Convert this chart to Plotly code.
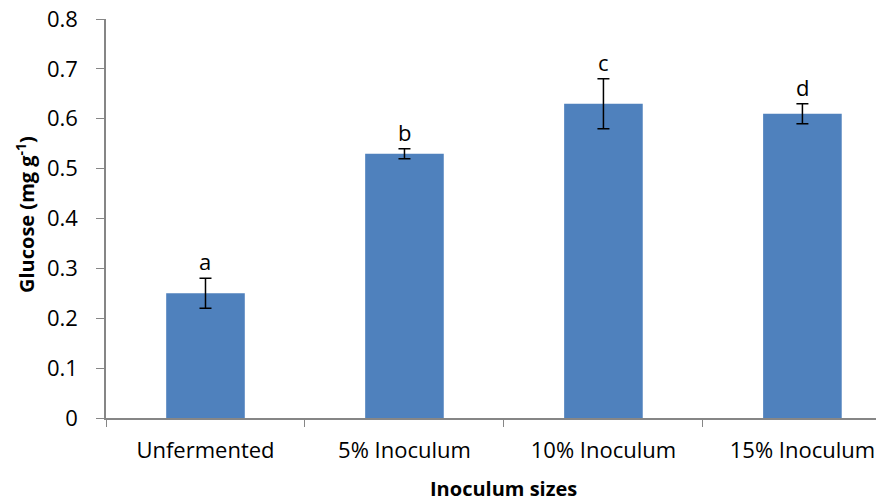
import plotly.graph_objects as go

categories = ["Unfermented", "5% Inoculum", "10% Inoculum", "15% Inoculum"]
glucose = [0.25, 0.53, 0.63, 0.61]
errors = [0.03, 0.01, 0.05, 0.02]
letters = ["a", "b", "c", "d"]
y_ticks = [0, 0.1, 0.2, 0.3, 0.4, 0.5, 0.6, 0.7, 0.8]
y_tick_labels = ["0", "0.1", "0.2", "0.3", "0.4", "0.5", "0.6", "0.7", "0.8"]

FONT = "Open Sans"
AXIS_GRAY = "#868686"
# page has an 8px body margin; figure is sized to fill the rest of the window
OFF = 8
W, H = 884 - OFF, 502 - OFF
L, T = 106 - OFF, 19 - OFF
B = H - (418 - OFF)
PW, PH = W - L, H - T - B

def px(xp):
    return (xp - OFF - L) / PW

def py(yp):
    return (H - (yp - OFF) - B) / PH

fig = go.Figure()
fig.add_trace(go.Bar(
    x=categories, y=glucose,
    marker=dict(color="#4F81BD", line=dict(width=0)),
    error_y=dict(type="data", array=errors, visible=True,
                 color="black", thickness=1.5, width=6),
    width=0.395,
))

for c, v, e, l in zip(categories, glucose, errors, letters):
    fig.add_annotation(x=c, y=v + e, text=l, showarrow=False,
                       xref="x", yref="y", yanchor="bottom", yshift=0,
                       font=dict(family=FONT, size=22, color="black"))

fig.add_annotation(x=px(504), y=py(488), xref="paper", yref="paper",
                   yanchor="middle", xanchor="center",
                   text="<b>Inoculum sizes</b>", showarrow=False,
                   font=dict(family=FONT, size=20, color="black"))
fig.add_annotation(x=px(25), y=py(215), xref="paper", yref="paper",
                   xanchor="center", yanchor="middle",
                   text="<b>Glucose (mg g<sup>-1</sup>)</b>", showarrow=False,
                   textangle=-90, font=dict(family=FONT, size=20, color="black"))

fig.update_layout(
    width=W, height=H,
    margin=dict(l=L, r=0, t=T, b=B, autoexpand=False),
    plot_bgcolor="white", paper_bgcolor="white",
    showlegend=False,
    font=dict(family=FONT, size=22, color="black"),
    xaxis=dict(range=[-0.5, 3.41], showline=True, linecolor=AXIS_GRAY, linewidth=1.5,
               ticks="outside", tickson="boundaries", ticklen=7, tickcolor=AXIS_GRAY,
               showgrid=False, tickfont=dict(family=FONT, size=22, color="black"),
               ticklabelstandoff=12, automargin=False, ticklabeloverflow="allow"),
    yaxis=dict(range=[0, 0.8], showline=True, linecolor=AXIS_GRAY, linewidth=1.5,
               ticks="outside", ticklen=8, tickcolor=AXIS_GRAY, showgrid=False,
               zeroline=False, tickvals=y_ticks, ticktext=y_tick_labels,
               tickfont=dict(family=FONT, size=22, color="black"),
               ticklabelstandoff=14, automargin=False, ticklabeloverflow="allow"),
)

fig.write_html("out.html")
